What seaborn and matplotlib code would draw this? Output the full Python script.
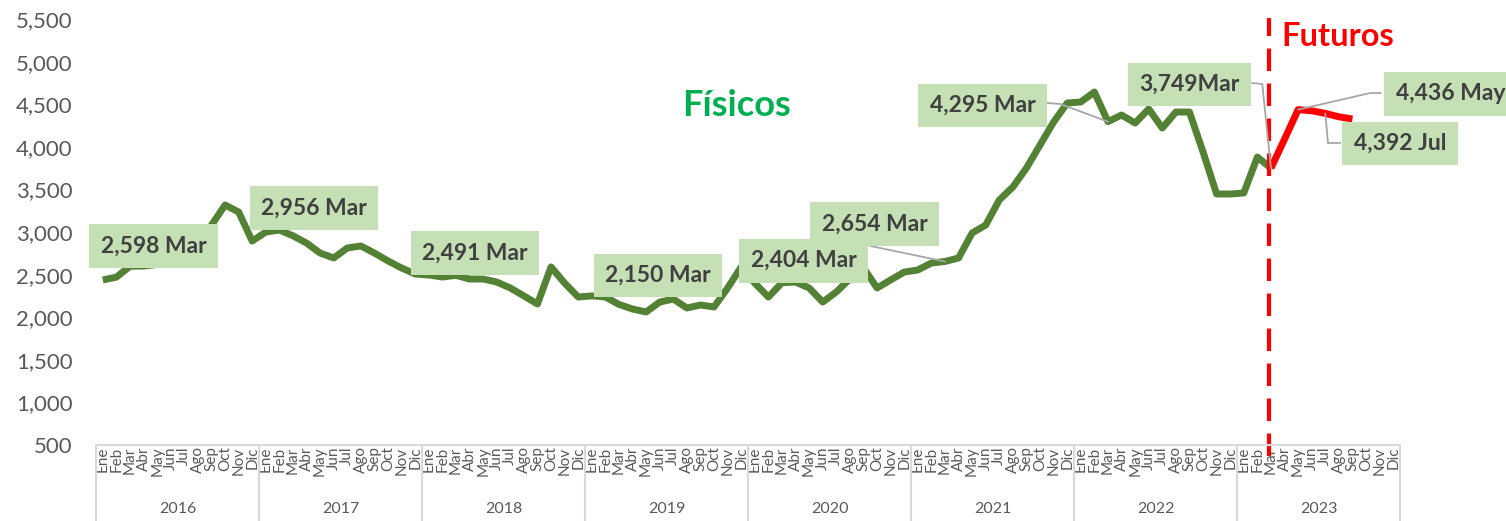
import matplotlib
matplotlib.use("Agg")
import matplotlib.pyplot as plt
import seaborn as sns
import pandas as pd
import numpy as np

# ---------------- data ----------------
meses = ["Ene", "Feb", "Mar", "Abr", "May", "Jun", "Jul", "Ago", "Sep", "Oct", "Nov", "Dic"]
anios = ["2016", "2017", "2018", "2019", "2020", "2021", "2022", "2023"]

fisicos = [
    2437, 2470, 2598, 2600, 2620, 2650, 2700, 2800, 3080, 3317, 3235, 2894,   # 2016
    3000, 3023, 2956, 2870, 2753, 2695, 2812, 2836, 2753, 2660, 2577, 2507,   # 2017
    2495, 2472, 2491, 2448, 2448, 2413, 2343, 2250, 2155, 2590, 2400, 2237,   # 2018
    2250, 2237, 2150, 2096, 2061, 2178, 2213, 2108, 2143, 2120, 2343, 2590,   # 2019
    2400, 2237, 2404, 2413, 2343, 2178, 2296, 2450, 2580, 2343, 2437, 2530,   # 2020
    2554, 2636, 2654, 2695, 2988, 3082, 3376, 3528, 3751, 4021, 4291, 4514,   # 2021
    4526, 4643, 4295, 4373, 4279, 4444, 4220, 4408, 4408, 3939, 3446, 3446,   # 2022
    3458, 3880, 3749,                                                         # 2023
]
futuros = [3749, 4090, 4436, 4423, 4392, 4352, 4326]   # Mar-Sep 2023
futuros_inicio = 86  # index of Mar 2023

etiquetas = ["2,598 Mar", "2,956 Mar", "2,491 Mar", "2,150 Mar", "2,404 Mar",
             "2,654 Mar", "4,295 Mar", "3,749Mar", "4,436 May", "4,392 Jul"]
# label box centres (month index, value)
etiq_x = [3.73, 15.55, 27.4, 40.88, 51.6, 56.83, 64.78, 80.0, 99.2, 95.5]
etiq_y = [2836, 3282, 2754, 2489, 2665, 3094, 4485, 4731, 4620, 4039]
# leader lines: (label-side waypoints ..., target month index)
lideres = [
    ([56.5], [2836], 62, "f"),
    ([69.53, 70.5], [4514, 4502], 74, "f"),
    ([84.6, 85.36], [4749, 4737], 86, "f"),
    ([94.1, 93.3], [4631, 4631], 88, "u"),
    ([91.1, 90.2], [4045, 4045], 90, "u"),
]

# ---------------- figure ----------------
sns.set_theme(style="white")
plt.rcParams["font.family"] = ["Lato", "DejaVu Sans"]

W, H = 1506, 521
fig = plt.figure(figsize=(W / 100, H / 100), dpi=100)
ax = fig.add_axes([96 / W, (H - 445) / H, 1304 / W, 426 / H])

verde = "#548235"
rojo = "#FF0000"

df_f = pd.DataFrame({"mes": np.arange(len(fisicos)), "valor": fisicos})
df_u = pd.DataFrame({"mes": np.arange(futuros_inicio, futuros_inicio + len(futuros)), "valor": futuros})

sns.lineplot(data=df_f, x="mes", y="valor", color=verde, linewidth=5.0, ax=ax,
             solid_joinstyle="round", solid_capstyle="butt")
sns.lineplot(data=df_u, x="mes", y="valor", color=rojo, linewidth=5.0, ax=ax,
             solid_joinstyle="round", solid_capstyle="butt")

ax.set_xlim(-0.5, 95.5)
ax.set_ylim(500, 5500)
ax.set_yticks(np.arange(500, 5501, 500))
ax.set_yticklabels([f"{v:,}" for v in range(500, 5501, 500)])
ax.tick_params(axis="y", length=0, pad=17, labelsize=16, labelcolor="#595959")

ax.set_xticks(np.arange(96))
ax.set_xticklabels(meses * len(anios), rotation=90, fontsize=11, color="#595959")
ax.tick_params(axis="x", length=0, pad=1)
ax.set_xlabel("")
ax.set_ylabel("")

for s in ["left", "right", "top"]:
    ax.spines[s].set_visible(False)
ax.spines["bottom"].set_color("#D9D9D9")
ax.spines["bottom"].set_linewidth(1.5)

trans = ax.get_xaxis_transform()
for i in range(len(anios) + 1):
    ax.plot([i * 12 - 0.5, i * 12 - 0.5], [0, -0.185], transform=trans, color="#D9D9D9",
            linewidth=1.5, clip_on=False)
for i, a in enumerate(anios):
    ax.text(i * 12 + 5.5, -0.15, a, transform=trans, ha="center", va="center",
            fontsize=11.5, color="#595959")

# dashed vertical separator
vl = ax.axvline(85.85, ymin=-0.025, ymax=1.003, color=rojo, linewidth=3.0, clip_on=False)
vl.set_dashes((5.4, 3.0))

# leader lines
for xs, ys, objetivo, cual in lideres:
    if cual == "f":
        yt = fisicos[objetivo]
    else:
        yt = futuros[objetivo - futuros_inicio]
    ax.plot(xs + [objetivo], ys + [yt], color="#A6A6A6", linewidth=1.3, zorder=3, clip_on=False)

# labels
for t, x, y in zip(etiquetas, etiq_x, etiq_y):
    ax.text(x, y, t, ha="center", va="center", fontsize=16.5, fontweight="bold", color="#404040",
            zorder=5, clip_on=False,
            bbox=dict(boxstyle="square,pad=0.5", facecolor="#C5E0B4", edgecolor="none"))

ax.text(0.4908, 0.798, "Físicos", transform=ax.transAxes, ha="center", va="center",
        fontsize=26, fontweight="bold", color="#00B050")
ax.text(0.9525, 0.958, "Futuros", transform=ax.transAxes, ha="center", va="center",
        fontsize=23.5, fontweight="bold", color=rojo)

fig.savefig("out.png", dpi=100)
